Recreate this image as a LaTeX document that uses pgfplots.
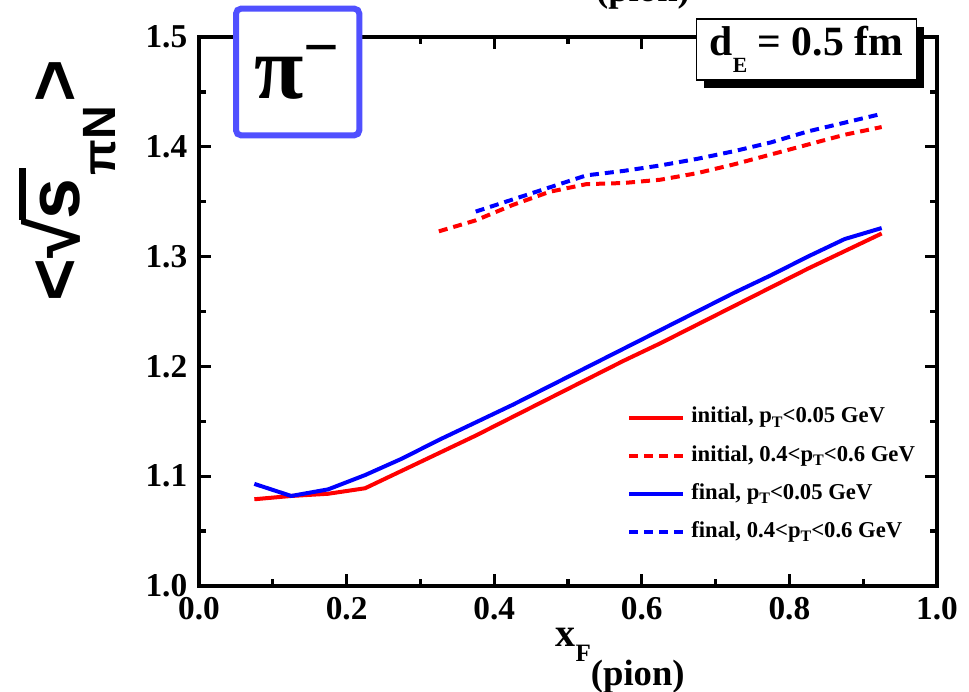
\documentclass[border=0pt]{standalone}
\usepackage{fontspec}
\setmainfont{Liberation Serif}
\newfontfamily\lsans{Liberation Sans}
\usepackage{pgfplots}
\pgfplotsset{compat=1.18}
\usetikzlibrary{shadows}

\definecolor{pred}{RGB}{255,0,0}
\definecolor{pblue}{RGB}{0,0,255}
\definecolor{boxblue}{RGB}{80,80,255}

\begin{document}
\begin{tikzpicture}
\begin{axis}[
    name=main,
    width=221.4pt, height=164.7pt, scale only axis,
    xmin=0, xmax=1, ymin=1.0, ymax=1.5,
    xtick={0,0.2,0.4,0.6,0.8,1.0},
    ytick={1.0,1.1,1.2,1.3,1.4,1.5},
    minor x tick num=1, minor y tick num=1,
    tick align=inside,
    major tick length=3.6pt, minor tick length=2.2pt,
    axis line style={line width=1pt},
    every tick/.style={line width=1pt, black},
    tick label style={font=\fontsize{10}{12}\selectfont\bfseries},
    /pgf/number format/assume math mode=true,
    /pgf/number format/.cd, fixed, fixed zerofill, precision=1,
    /pgfplots/.cd,
    legend cell align=left,
    legend style={at={(rel axis cs:0.575,0.345)}, anchor=north west,
        draw=none, fill=none, font=\fontsize{6.8}{8}\selectfont\bfseries,
        row sep=1.2pt, inner sep=1pt},
    legend image code/.code={\draw[#1] (0pt,0pt) -- (16pt,0pt);},
    clip=false,
]
% initial, pT<0.05 GeV
\addplot[pred, line width=1.2pt] coordinates {
    (0.075,1.079) (0.125,1.082) (0.175,1.084) (0.225,1.089) (0.275,1.105)
    (0.325,1.121) (0.375,1.137) (0.425,1.154) (0.475,1.171) (0.525,1.188)
    (0.575,1.205) (0.625,1.221) (0.675,1.238) (0.725,1.255) (0.775,1.272)
    (0.825,1.289) (0.875,1.305) (0.925,1.321)
};
% initial, 0.4<pT<0.6 GeV
\addplot[pred, line width=1.2pt, dash pattern=on 2.7pt off 1.8pt] coordinates {
    (0.325,1.323) (0.375,1.333) (0.425,1.347) (0.475,1.359) (0.525,1.366)
    (0.575,1.367) (0.625,1.370) (0.675,1.376) (0.725,1.384) (0.775,1.393)
    (0.825,1.402) (0.875,1.411) (0.925,1.418)
};
% final, pT<0.05 GeV
\addplot[pblue, line width=1.2pt] coordinates {
    (0.075,1.093) (0.125,1.082) (0.175,1.088) (0.225,1.101) (0.275,1.116)
    (0.325,1.133) (0.375,1.149) (0.425,1.165) (0.475,1.182) (0.525,1.199)
    (0.575,1.216) (0.625,1.233) (0.675,1.250) (0.725,1.267) (0.775,1.283)
    (0.825,1.300) (0.875,1.316) (0.925,1.326)
};
% final, 0.4<pT<0.6 GeV
\addplot[pblue, line width=1.2pt, dash pattern=on 2.7pt off 1.8pt] coordinates {
    (0.375,1.341) (0.425,1.352) (0.475,1.363) (0.525,1.374) (0.575,1.378)
    (0.625,1.383) (0.675,1.389) (0.725,1.396) (0.775,1.404) (0.825,1.414)
    (0.875,1.422) (0.925,1.430)
};
\legend{{initial, p\raisebox{-1.3pt}{\fontsize{4.8}{5}\selectfont T}<0.05 GeV},
        {initial, 0.4<p\raisebox{-1.3pt}{\fontsize{4.8}{5}\selectfont T}<0.6 GeV},
        {final, p\raisebox{-1.3pt}{\fontsize{4.8}{5}\selectfont T}<0.05 GeV},
        {final, 0.4<p\raisebox{-1.3pt}{\fontsize{4.8}{5}\selectfont T}<0.6 GeV}}
\end{axis}

% x axis label
\node[anchor=base west, inner sep=0pt, font=\bfseries]
    at ([xshift=106.8pt, yshift=-18.3pt]main.south west)
    {{\fontsize{12}{14}\selectfont x}\raisebox{-4.5pt}{\fontsize{7.5}{8}\selectfont F}\raisebox{-11.7pt}{\fontsize{11}{13}\selectfont (pion)}};

% clipped top label
\node[anchor=south, inner sep=0pt, font=\fontsize{11}{13}\selectfont\bfseries]
    at ([xshift=133.2pt, yshift=8.1pt]main.north west) {(pion)};

% y axis label
\node[rotate=90, anchor=base west, inner sep=0pt, font=\lsans\bfseries]
    at ([xshift=-35.7pt, yshift=-79.5pt]main.north west)
    {\fontsize{22}{24}\selectfont <√\kern-0.02em\rlap{\rule[16.2pt]{15.5pt}{2.2pt}}s\kern1pt\raisebox{-10.5pt}{\fontsize{14}{16}\selectfont πN}\kern1pt>};

% pi- box
\node[draw=boxblue, line width=1.8pt, rounded corners=1.5pt, fill=white,
      minimum width=37pt, minimum height=38pt, inner sep=0pt,
      font=\fontsize{27}{29}\selectfont\bfseries]
    at ([xshift=29.6pt, yshift=-10.5pt]main.north west) {π\textsuperscript{−}};

% d_E box
\node[draw=black, line width=0.5pt, fill=white,
      drop shadow={shadow xshift=2.4pt, shadow yshift=-2.4pt, fill=black, opacity=1},
      minimum width=66pt, minimum height=18.3pt, inner sep=0pt,
      font=\fontsize{12.5}{14}\selectfont\bfseries]
    at ([xshift=-39.2pt, yshift=-3.75pt]main.north east)
    {d\raisebox{-5pt}{\fontsize{6.5}{8}\selectfont E} = 0.5 fm};

\pgfresetboundingbox
\path[use as bounding box] ([xshift=-59.7pt, yshift=-31.8pt]main.south west)
    rectangle ([xshift=9.6pt, yshift=11.1pt]main.north east);
\end{tikzpicture}
\end{document}
